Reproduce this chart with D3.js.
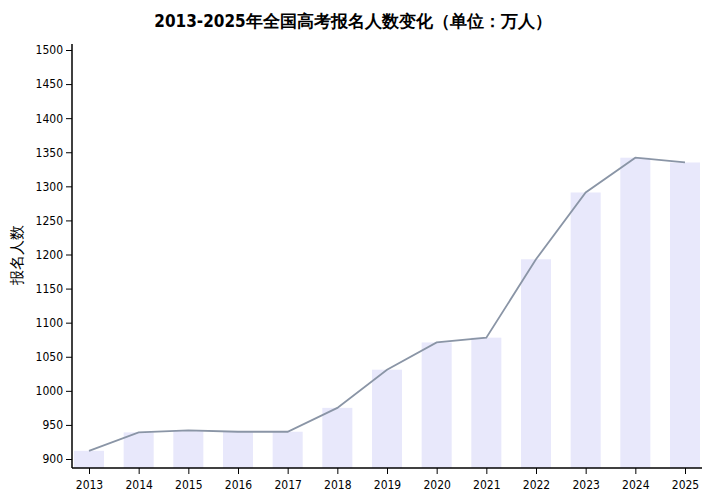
<!DOCTYPE html>
<html><head><meta charset="utf-8">
<script src="https://cdn.jsdelivr.net/npm/d3@7/dist/d3.min.js"></script>
<style>body{margin:0;background:#fff}text{font-family:"DejaVu Sans Condensed","DejaVu Sans",sans-serif}</style>
</head><body>
<svg id="c" width="706" height="503"></svg>
<script>
var years = ["2013","2014","2015","2016","2017","2018","2019","2020","2021","2022","2023","2024","2025"];
var applicants = [912, 939, 942, 940, 940, 975, 1031, 1071, 1078, 1193, 1291, 1342, 1335];
var yTicks = [900, 950, 1000, 1050, 1100, 1150, 1200, 1250, 1300, 1350, 1400, 1450, 1500];

var svg = d3.select("#c");
var x = d3.scalePoint().domain(years).range([89, 685]);
var y = d3.scaleLinear().domain([900, 1500]).range([459, 50]);
var bottom = 468, barW = 30;

// bars
svg.selectAll(".bar").data(applicants).enter().append("rect")
    .attr("x", function (d, i) { return x(years[i]) - barW / 2; })
    .attr("y", function (d) { return y(d); })
    .attr("width", barW)
    .attr("height", function (d) { return bottom - y(d); })
    .attr("fill", "#e8e8fb");

// line
var line = d3.line()
    .x(function (d, i) { return x(years[i]); })
    .y(function (d) { return y(d); });
svg.append("path").datum(applicants)
    .attr("d", line).attr("fill", "none")
    .attr("stroke", "#8a95a6").attr("stroke-width", 1.8);

// axes
var yAxis = svg.append("g").attr("transform", "translate(72,0)")
    .call(d3.axisLeft(y).tickValues(yTicks).tickFormat(d3.format("d")).tickSizeOuter(0));
yAxis.select(".domain").attr("d", "M0,44V" + bottom).attr("stroke-width", 1.5);
yAxis.selectAll("text").attr("font-size", 12).attr("fill", "#000");

var xAxis = svg.append("g").attr("transform", "translate(0," + bottom + ")")
    .call(d3.axisBottom(x).tickSizeOuter(0));
xAxis.select(".domain").attr("d", "M72,0H702").attr("stroke-width", 1.5);
xAxis.selectAll("text").attr("font-size", 12).attr("fill", "#000").attr("dy", "1em");

svg.append("text").attr("x", 353).attr("y", 27).attr("text-anchor", "middle")
    .attr("font-size", 17).attr("font-weight", "bold")
    .attr("font-family", "'Noto Sans CJK SC',sans-serif")
    .text("2013-2025年全国高考报名人数变化（单位：万人）");

svg.append("text").attr("transform", "translate(22,255) rotate(-90)")
    .attr("text-anchor", "middle").attr("font-size", 15)
    .attr("font-family", "'Noto Sans CJK SC',sans-serif")
    .text("报名人数");
</script>
</body></html>
